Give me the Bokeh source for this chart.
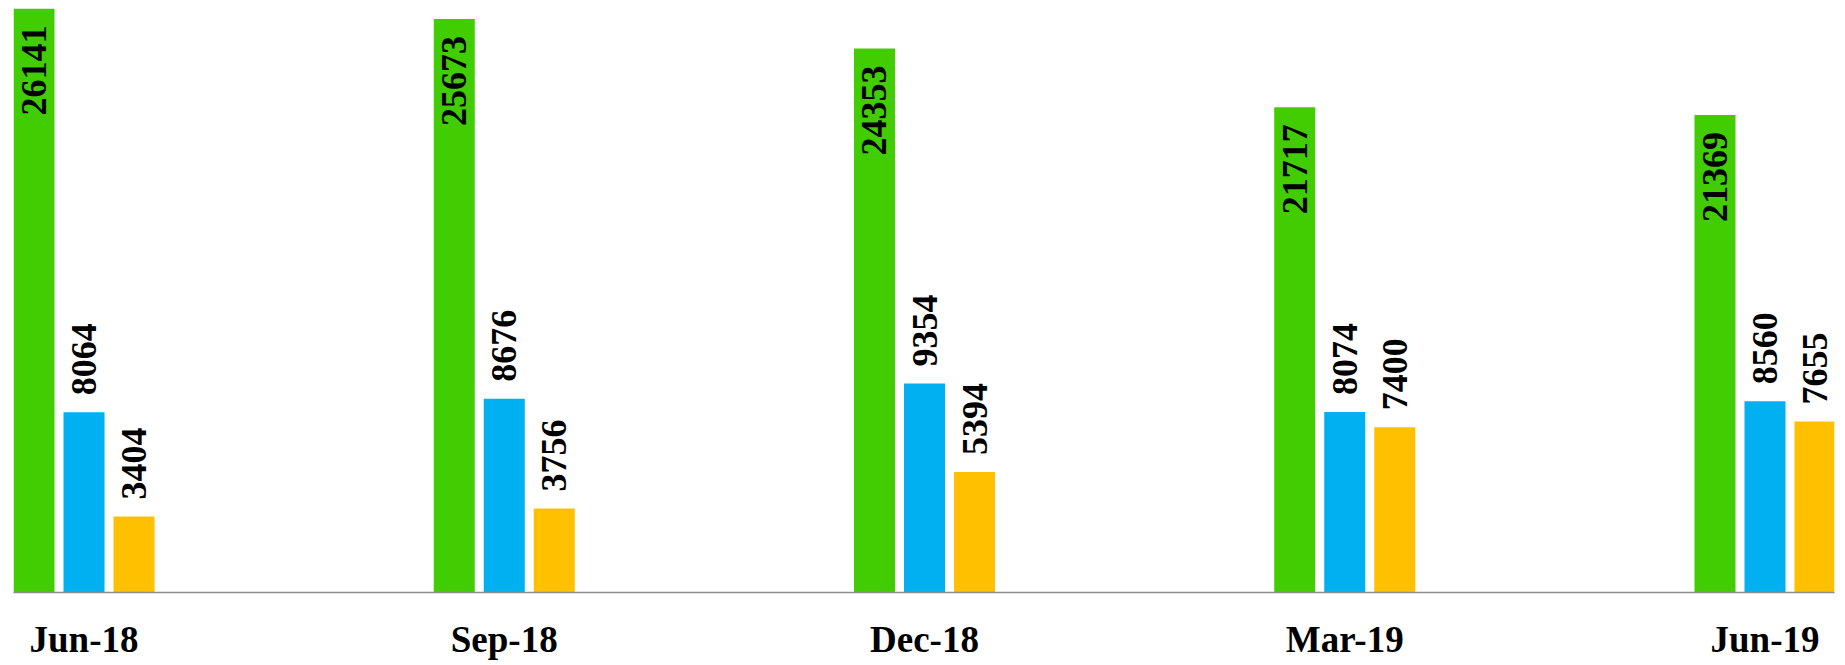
from bokeh.plotting import figure
from bokeh.models import ColumnDataSource, FixedTicker, Range1d
from bokeh.core.properties import value
from bokeh.embed import file_html
from bokeh.resources import INLINE
import math

categories = ["Jun-18", "Sep-18", "Dec-18", "Mar-19", "Jun-19"]
green_vals = [26141, 25673, 24353, 21717, 21369]
blue_vals = [8064, 8676, 9354, 8074, 8560]
yellow_vals = [3404, 3756, 5394, 7400, 7655]

GREEN = "#42CC02"
BLUE = "#00B0F0"
YELLOW = "#FFC000"

FRAME_H = 584
Y_END = 26141
pad = 17 * Y_END / FRAME_H

idx = list(range(len(categories)))
offset = 0.119
bw = 0.0976

p = figure(width=1838, height=662, output_backend="svg", toolbar_location=None,
           x_range=Range1d(-0.1678, 4.1654), y_range=Range1d(0, Y_END),
           min_border_left=13, min_border_right=4, min_border_top=8, min_border_bottom=0,
           y_axis_location=None)
p.outline_line_color = None
p.xgrid.visible = False
p.ygrid.visible = False
p.background_fill_color = "white"
p.border_fill_color = "white"

series = [(green_vals, -offset, GREEN), (blue_vals, 0.0, BLUE), (yellow_vals, offset, YELLOW)]
for vals, off, col in series:
    src = ColumnDataSource(dict(x=[i + off for i in idx], top=vals))
    p.vbar(x="x", top="top", width=bw, bottom=0, source=src, fill_color=col, line_color=None)

# inside labels for green
src_g = ColumnDataSource(dict(x=[i - offset for i in idx], y=[v - pad for v in green_vals],
                              t=[str(v) for v in green_vals]))
p.text(x="x", y="y", text="t", source=src_g, angle=math.pi / 2, text_align="right",
       text_baseline="middle", text_font=value("Liberation Serif"), text_font_size="36px",
       text_font_style="bold", text_color="black")

for vals, off in [(blue_vals, 0.0), (yellow_vals, offset)]:
    src = ColumnDataSource(dict(x=[i + off for i in idx], y=[v + pad for v in vals],
                                t=[str(v) for v in vals]))
    p.text(x="x", y="y", text="t", source=src, angle=math.pi / 2, text_align="left",
           text_baseline="middle", text_font=value("Liberation Serif"), text_font_size="36px",
           text_font_style="bold", text_color="black")

ax = p.xaxis[0]
ax.ticker = FixedTicker(ticks=idx)
ax.major_label_overrides = {i: c for i, c in zip(idx, categories)}
ax.major_tick_line_color = None
ax.minor_tick_line_color = None
ax.axis_line_color = "#8c8c8c"
ax.axis_line_width = 1.5
ax.major_label_text_font = "Liberation Serif"
ax.major_label_text_font_style = "bold"
ax.major_label_text_font_size = "37px"
ax.major_label_text_color = "black"
ax.major_label_standoff = 20

open("out.html", "w").write(file_html(p, INLINE))
